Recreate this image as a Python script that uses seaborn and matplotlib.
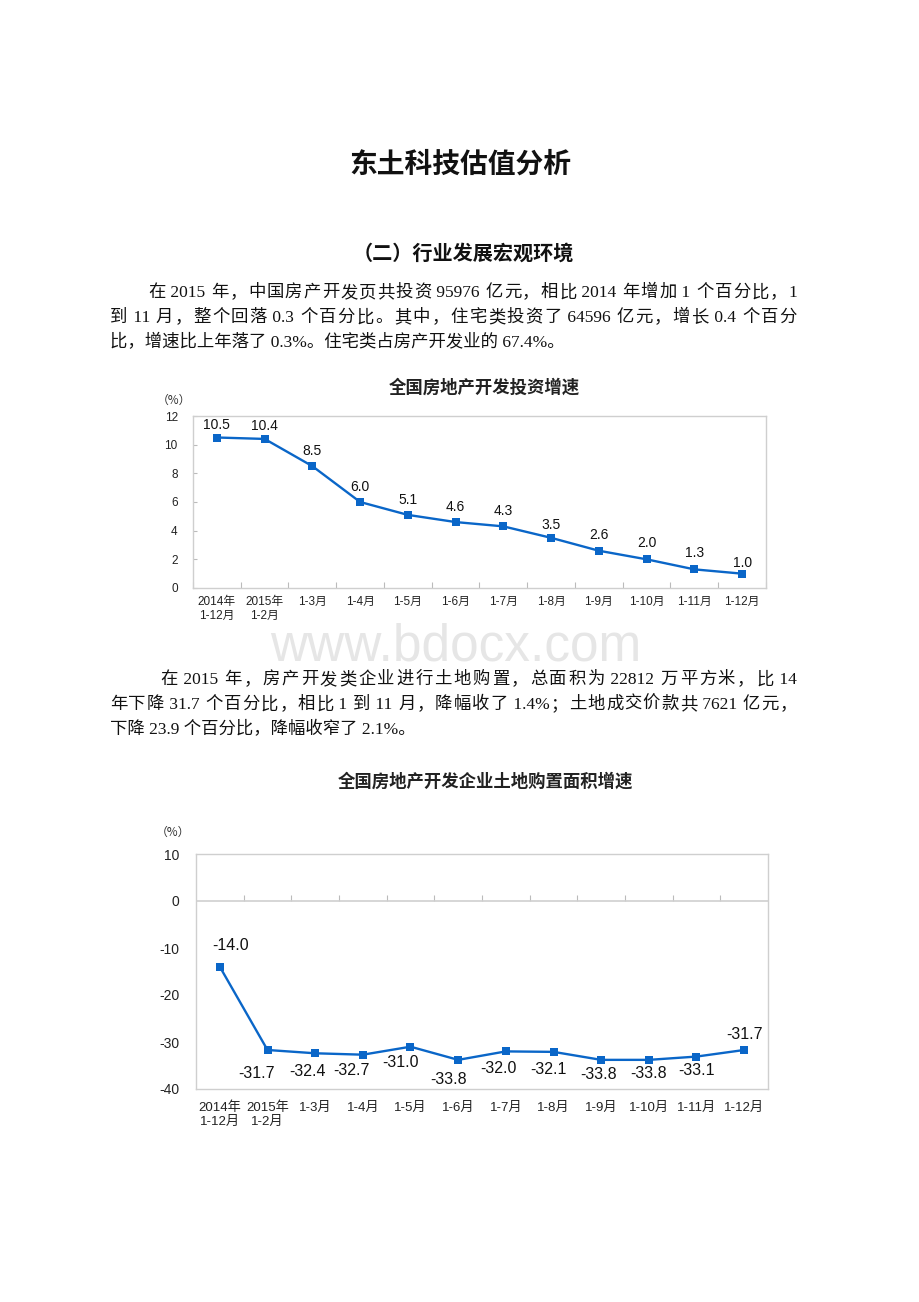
import numpy as np
import pandas as pd
import matplotlib
matplotlib.use('Agg')
import matplotlib.pyplot as plt
import seaborn as sns

# ---------------- data ----------------
PERIODS = ["2014年\n1-12月", "2015年\n1-2月", "1-3月", "1-4月", "1-5月", "1-6月",
           "1-7月", "1-8月", "1-9月", "1-10月", "1-11月", "1-12月"]
INVEST_GROWTH = [10.5, 10.4, 8.5, 6.0, 5.1, 4.6, 4.3, 3.5, 2.6, 2.0, 1.3, 1.0]
LAND_GROWTH = [-14.0, -31.7, -32.4, -32.7, -31.0, -33.8, -32.0, -32.1, -33.8, -33.8, -33.1, -31.7]
INVEST_YTICKS = [0, 2, 4, 6, 8, 10, 12]
LAND_YTICKS = [-40, -30, -20, -10, 0, 10]

TITLE = "东土科技估值分析"
HEADING = "（二）行业发展宏观环境"
PARA1 = ["在 2015 年，中国房产开发页共投资 95976 亿元，相比 2014 年增加 1 个百分比，1",
         "到 11 月，整个回落 0.3 个百分比。其中，住宅类投资了 64596 亿元，增长 0.4 个百分",
         "比，增速比上年落了 0.3%。住宅类占房产开发业的 67.4%。"]
PARA2 = ["在 2015 年，房产开发类企业进行土地购置，总面积为 22812 万平方米，比 14",
         "年下降 31.7 个百分比，相比 1 到 11 月，降幅收了 1.4%；土地成交价款共 7621 亿元，",
         "下降 23.9 个百分比，降幅收窄了 2.1%。"]
CHART1_TITLE = "全国房地产开发投资增速"
CHART2_TITLE = "全国房地产开发企业土地购置面积增速"
WATERMARK = "www.bdocx.com"

# label offsets (points) – styling only
OFF1 = [(0, 9), (0, 9), (0, 11), (0, 11), (0, 11), (0, 11), (0, 11), (0, 9), (0, 11), (0, 12), (0, 12), (0, 8)]
OFF2 = [(8, 15.5), (-8, -17), (-5.5, -13), (-8.5, -11.5), (-7, -11.5), (-7, -14.5),
        (-5.5, -12), (-4, -13), (-2, -10.5), (0, -10), (0, -10), (0, 11)]

# ---------------- style ----------------
sns.set_theme(style='white')
plt.rcParams['font.family'] = ['Liberation Sans', 'Noto Sans CJK SC', 'DejaVu Sans']
plt.rcParams['axes.unicode_minus'] = False

BLUE = '#0A66C8'
FRAME = '#cfcfcf'
SERIF = ['Liberation Serif', 'Noto Sans CJK SC']
SANS = ['Liberation Sans', 'Noto Sans CJK SC']
CJK = ['Noto Sans CJK SC']

W, H = 920, 1302
fig = plt.figure(figsize=(9.2, 13.02), dpi=100)
fig.patch.set_facecolor('white')
renderer = fig.canvas.get_renderer()


def fx(x):
    return x / W


def fy(y):
    return 1 - y / H


def tokens(line):
    out, buf = [], ''
    for ch in line:
        if ord(ch) < 128:
            buf += ch
        else:
            if buf:
                out.append(buf)
                buf = ''
            out.append(ch)
    if buf:
        out.append(buf)
    return out


def body_line(x0, y, line, justify_to=None, size=12.5):
    if justify_to is None:
        fig.text(fx(x0), fy(y), line, family=SERIF, fontsize=size,
                 ha='left', va='center', color='#111111')
        return
    toks = tokens(line)
    arts, widths = [], []
    for t in toks:
        a = fig.text(0, fy(y), t, family=SERIF, fontsize=size, ha='left',
                     va='center', color='#111111')
        widths.append(a.get_window_extent(renderer).width)
        arts.append(a)
    gap = (justify_to - x0 - sum(widths)) / max(len(toks) - 1, 1)
    x = x0
    for a, w in zip(arts, widths):
        a.set_x(fx(x))
        x += w + gap


# ---------------- document text ----------------
fig.text(fx(460), fy(165), TITLE, family=CJK, fontsize=20, ha='center', va='center',
         weight='bold', color='#111111')
fig.text(fx(463), fy(253), HEADING, family=CJK, fontsize=14.5, ha='center', va='center',
         weight='bold', color='#111111')

RIGHT = 797
for i, line in enumerate(PARA1):
    x0 = 148 if i == 0 else 110
    body_line(x0, 293 + 25 * i, line, RIGHT if i < len(PARA1) - 1 else None)
for i, line in enumerate(PARA2):
    x0 = 160 if i == 0 else 110
    body_line(x0, 680 + 25 * i, line, RIGHT if i < len(PARA2) - 1 else None)

fig.text(fx(456), fy(647), WATERMARK, family=['Liberation Sans'], fontsize=37,
         ha='center', va='center', color='#e6e6e6')

# ---------------- chart 1 ----------------
fig.text(fx(484), fy(388), CHART1_TITLE, family=CJK, fontsize=12.5, ha='center',
         va='center', weight='bold', color='#222222')
fig.text(fx(174), fy(400), "（%）", family=CJK, fontsize=8.5, ha='center', va='center',
         color='#333333')

ax1 = fig.add_axes([fx(193), fy(588), (766 - 193) / W, (588 - 416) / H])
df1 = pd.DataFrame({'idx': np.arange(len(PERIODS)), 'value': INVEST_GROWTH})
sns.lineplot(data=df1, x='idx', y='value', ax=ax1, color=BLUE, linewidth=1.7,
             marker='s', markersize=5.5, markeredgewidth=0, sort=False)
for i, v in enumerate(INVEST_GROWTH):
    ax1.annotate(f"{v:.1f}", (i, v), xytext=OFF1[i], textcoords='offset points',
                 ha='center', va='center', fontsize=10, family=SANS, color='#111111')
ax1.set_xlim(-0.5, len(PERIODS) - 0.5)
ax1.set_ylim(min(INVEST_YTICKS), max(INVEST_YTICKS))
ax1.set_yticks(INVEST_YTICKS)
ax1.set_yticklabels([str(t) for t in INVEST_YTICKS], fontsize=8.5, family=SANS, color='#222222')
ax1.set_xticks(df1['idx'])
ax1.set_xticklabels(PERIODS, fontsize=8.5, family=SANS, color='#222222')
ax1.set_xticks(np.arange(len(PERIODS) + 1) - 0.5, minor=True)
ax1.tick_params(axis='x', which='major', length=0, pad=6)
ax1.tick_params(axis='x', which='minor', bottom=True, direction='in', length=4,
                width=0.8, color='#bbbbbb')
ax1.tick_params(axis='y', which='major', left=True, direction='in', length=3,
                width=0.8, color='#bbbbbb', pad=11)
ax1.set_xlabel('')
ax1.set_ylabel('')
for s in ax1.spines.values():
    s.set_color(FRAME)
    s.set_linewidth(1.0)

# ---------------- chart 2 ----------------
fig.text(fx(485), fy(782), CHART2_TITLE, family=CJK, fontsize=12.5, ha='center',
         va='center', weight='bold', color='#222222')
fig.text(fx(173), fy(832), "（%）", family=CJK, fontsize=8.5, ha='center', va='center',
         color='#333333')

ax2 = fig.add_axes([fx(196), fy(1089), (768 - 196) / W, (1089 - 854) / H])
df2 = pd.DataFrame({'idx': np.arange(len(PERIODS)), 'value': LAND_GROWTH})
ax2.axhline(0, color=FRAME, linewidth=1.2, zorder=1)
sns.lineplot(data=df2, x='idx', y='value', ax=ax2, color=BLUE, linewidth=1.7,
             marker='s', markersize=6, markeredgewidth=0, sort=False, zorder=3)
for i, v in enumerate(LAND_GROWTH):
    ax2.annotate(f"{v:.1f}", (i, v), xytext=OFF2[i], textcoords='offset points',
                 ha='center', va='center', fontsize=11.5, family=SANS, color='#111111')
ymin, ymax = min(LAND_YTICKS), max(LAND_YTICKS)
ax2.set_xlim(-0.5, len(PERIODS) - 0.5)
ax2.set_ylim(ymin, ymax)
ax2.set_yticks(LAND_YTICKS)
ax2.set_yticklabels([str(t) for t in LAND_YTICKS], fontsize=10, family=SANS, color='#222222')
ax2.set_xticks(df2['idx'])
ax2.set_xticklabels(PERIODS, fontsize=9.5, family=SANS, color='#222222')
ax2.tick_params(axis='x', which='major', length=0, pad=9)
ax2.tick_params(axis='y', which='major', length=0, pad=12)
ax2.set_xlabel('')
ax2.set_ylabel('')
for s in ax2.spines.values():
    s.set_color(FRAME)
    s.set_linewidth(1.0)

# boundary ticks on the zero line, pointing up
zero_pos = (0 - ymin) / (ymax - ymin)
sec = ax2.secondary_xaxis(zero_pos)
sec.set_xticks(np.arange(1, len(PERIODS)) - 0.5)
sec.tick_params(axis='x', direction='out', length=4, width=0.8, color='#bbbbbb',
                labeltop=False, labelbottom=False, top=True)
for s in sec.spines.values():
    s.set_visible(False)

fig.savefig('out.png', dpi=100, facecolor='white')
